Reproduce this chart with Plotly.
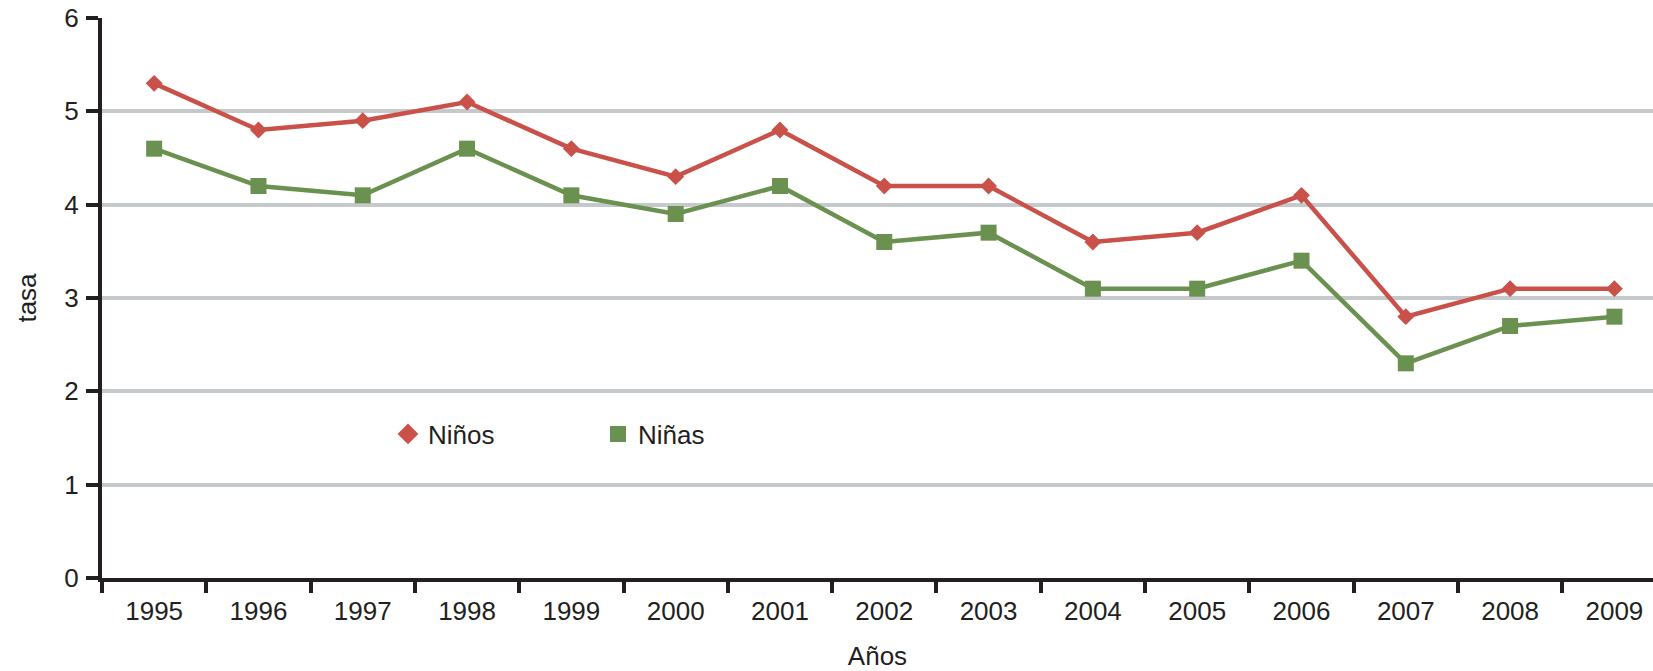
import plotly.graph_objects as go

years = ["1995", "1996", "1997", "1998", "1999", "2000", "2001", "2002",
         "2003", "2004", "2005", "2006", "2007", "2008", "2009"]
ninos = [5.3, 4.8, 4.9, 5.1, 4.6, 4.3, 4.8, 4.2, 4.2, 3.6, 3.7, 4.1, 2.8, 3.1, 3.1]
ninas = [4.6, 4.2, 4.1, 4.6, 4.1, 3.9, 4.2, 3.6, 3.7, 3.1, 3.1, 3.4, 2.3, 2.7, 2.8]
y_ticks = [0, 1, 2, 3, 4, 5, 6]

RED = "#c9514a"
GREEN = "#6a914f"
INK = "#231f20"
GRID = "#c5c9cc"
FONT = "Liberation Sans, Arial, sans-serif"
FS = 26

fig = go.Figure()
fig.add_trace(go.Scatter(x=years, y=ninos, mode="lines+markers", name="Niños",
                         line=dict(color=RED, width=4.5),
                         marker=dict(symbol="diamond", size=13, color=RED),
                         showlegend=False))
fig.add_trace(go.Scatter(x=years, y=ninas, mode="lines+markers", name="Niñas",
                         line=dict(color=GREEN, width=4.5),
                         marker=dict(symbol="square", size=16, color=GREEN),
                         showlegend=False))
# legend-only entries (marker only, like the original legend)
fig.add_trace(go.Scatter(x=[None], y=[None], mode="markers", name="Niños",
                         marker=dict(symbol="diamond", size=18, color=RED),
                         legend="legend"))
fig.add_trace(go.Scatter(x=[None], y=[None], mode="markers", name="Niñas",
                         marker=dict(symbol="square", size=18, color=GREEN),
                         legend="legend2"))

W, H = 1653, 671
L, R, T, B = 102, 0, 18, 93

def px_x(px):
    return (px - L) / (W - L - R)

def px_y(py):
    return 1 - (py - T) / (H - T - B)

leg_common = dict(bgcolor="rgba(0,0,0,0)", borderwidth=0,
                  font=dict(family=FONT, size=FS, color=INK),
                  xanchor="left", yanchor="middle", itemclick=False)

fig.update_layout(
    width=W, height=H,
    margin=dict(l=L, r=R, t=T, b=B, pad=0, autoexpand=False),
    paper_bgcolor="white", plot_bgcolor="white",
    font=dict(family=FONT, size=FS, color=INK),
    legend=dict(x=px_x(388), y=px_y(434), **leg_common),
    legend2=dict(x=px_x(598), y=px_y(434), **leg_common),
    xaxis=dict(
        type="category",
        range=[-0.5, 14.37],
        tickson="boundaries",
        automargin=False,
        ticks="outside", ticklen=11, tickwidth=4, tickcolor=INK,
        showline=True, linewidth=4, linecolor=INK,
        showgrid=False, zeroline=False,
        tickfont=dict(family=FONT, size=FS, color=INK),
        ticklabelstandoff=7,
        title=dict(text="Años", font=dict(family=FONT, size=FS, color=INK), standoff=34),
    ),
    yaxis=dict(
        range=[0, 6],
        tickvals=y_ticks,
        automargin=False,
        ticks="outside", ticklen=12, tickwidth=4, tickcolor=INK,
        showline=True, linewidth=4, linecolor=INK,
        showgrid=True, gridcolor=GRID, gridwidth=4,
        zeroline=False,
        tickfont=dict(family=FONT, size=FS, color=INK),
        ticklabelstandoff=2,
        title=dict(text="tasa", font=dict(family=FONT, size=FS, color=INK), standoff=21),
    ),
)

fig.write_html("out.html",
               config={"displayModeBar": False},
               post_script="document.body.style.margin='0';document.body.style.overflow='hidden';")
